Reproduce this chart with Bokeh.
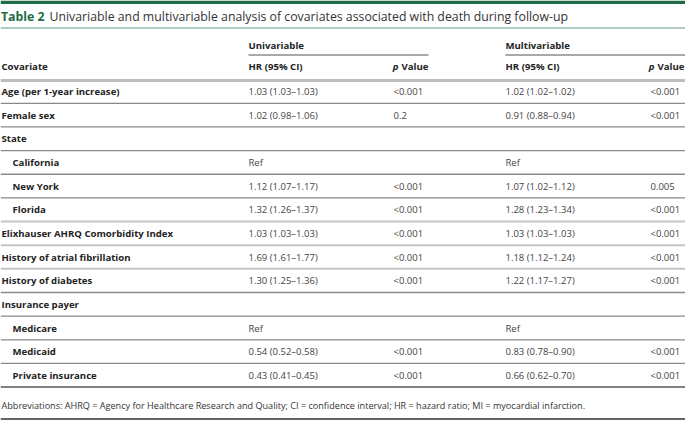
import numpy as np
from bokeh.plotting import figure
from bokeh.models import Range1d, ColumnDataSource
from bokeh.core.properties import value
from bokeh.embed import file_html
from bokeh.resources import INLINE

# ---- data ----
covariates = ["Age (per 1-year increase)", "Female sex", "State", "California", "New York",
              "Florida", "Elixhauser AHRQ Comorbidity Index", "History of atrial fibrillation",
              "History of diabetes", "Insurance payer", "Medicare", "Medicaid", "Private insurance"]
is_subgroup = [0, 0, 0, 1, 1, 1, 0, 0, 0, 0, 1, 1, 1]
uni_hr = ["1.03 (1.03–1.03)", "1.02 (0.98–1.06)", "", "Ref", "1.12 (1.07–1.17)", "1.32 (1.26–1.37)",
          "1.03 (1.03–1.03)", "1.69 (1.61–1.77)", "1.30 (1.25–1.36)", "", "Ref",
          "0.54 (0.52–0.58)", "0.43 (0.41–0.45)"]
uni_p = ["<0.001", "0.2", "", "", "<0.001", "<0.001", "<0.001", "<0.001", "<0.001", "", "",
         "<0.001", "<0.001"]
multi_hr = ["1.02 (1.02–1.02)", "0.91 (0.88–0.94)", "", "Ref", "1.07 (1.02–1.12)", "1.28 (1.23–1.34)",
            "1.03 (1.03–1.03)", "1.18 (1.12–1.24)", "1.22 (1.17–1.27)", "", "Ref",
            "0.83 (0.78–0.90)", "0.66 (0.62–0.70)"]
multi_p = ["<0.001", "<0.001", "", "", "0.005", "<0.001", "<0.001", "<0.001", "<0.001", "", "",
           "<0.001", "<0.001"]
title_bold = "Table 2"
title_rest = "Univariable and multivariable analysis of covariates associated with death during follow-up"
group_headers = ["Univariable", "Multivariable"]
col_headers = ["Covariate", "HR (95% CI)", "p", "Value"]
footnote = ("Abbreviations: AHRQ = Agency for Healthcare Research and Quality; CI = confidence interval; "
            "HR = hazard ratio; MI = myocardial infarction.")

# ---- layout ----
W, H = 685, 421
FONT = value("Open Sans")
GREEN = "#1d6b47"
BODY = "#444444"
BOLD = "#222222"
FS_B = "9.6px"
FS_R = "9.5px"

p = figure(width=W, height=H, output_backend="svg", toolbar_location=None,
           x_range=Range1d(0, W), y_range=Range1d(H, 0),
           x_axis_location=None, y_axis_location=None, min_border=0)
p.grid.visible = False
p.outline_line_color = None
p.background_fill_color = "white"

# top bar and title
p.quad(left=0, right=W, top=0, bottom=3.5, fill_color=GREEN, line_color=None)
p.text(x=[0.5], y=[16], text=[title_bold], text_font=FONT, text_font_size="12.3px",
       text_font_style="bold", text_color=GREEN, text_baseline="middle")
p.text(x=[49], y=[16], text=[title_rest], text_font=FONT, text_font_size="12.3px",
       text_color="#333333", text_baseline="middle")
p.segment(x0=[0], x1=[W], y0=[27.5], y1=[27.5], line_color="#5f9c7d", line_width=1.2)

# column positions
x_lab, x_sub = 1, 12
x_uhr, x_up, x_up_hdr = 248, 393, 428
x_mhr, x_mp, x_mp_hdr = 505, 650, 684

# group headers
p.text(x=[x_uhr, x_mhr], y=[45, 45], text=group_headers, text_font=FONT, text_font_size=FS_B,
       text_font_style="bold", text_color=BOLD, text_baseline="middle")
p.segment(x0=[x_uhr, x_mhr], x1=[x_up_hdr, W], y0=[54.5, 54.5], y1=[54.5, 54.5],
          line_color="#555555", line_width=1.2)

# column headers
hy = 66
p.text(x=[x_lab, x_uhr, x_mhr], y=[hy] * 3, text=[col_headers[0], col_headers[1], col_headers[1]],
       text_font=FONT, text_font_size=FS_B, text_font_style="bold", text_color=BOLD,
       text_baseline="middle")
p.text(x=[x_up_hdr, x_mp_hdr], y=[hy, hy], text=[col_headers[3]] * 2,
       text_font=FONT, text_font_size=FS_B, text_font_style="bold", text_color=BOLD,
       text_baseline="middle", text_align="right")
p.text(x=[x_up_hdr - 30, x_mp_hdr - 30], y=[hy, hy], text=[col_headers[2]] * 2,
       text_font=FONT, text_font_size=FS_B, text_font_style="bold italic", text_color=BOLD,
       text_baseline="middle", text_align="right")
p.segment(x0=[0], x1=[W], y0=[80], y1=[80], line_color="#bdbdbd", line_width=3)

# body rows
n = len(covariates)
ys = 91 + 23.65 * np.arange(n)
lab_x = [x_sub if s else x_lab for s in is_subgroup]
src = ColumnDataSource(dict(y=ys, lab_x=lab_x, lab=covariates, uhr=uni_hr, up=uni_p,
                            mhr=multi_hr, mp=multi_p))
p.text(x="lab_x", y="y", text="lab", source=src, text_font=FONT, text_font_size=FS_B,
       text_font_style="bold", text_color=BOLD, text_baseline="middle")
for col, xx in (("uhr", x_uhr), ("up", x_up), ("mhr", x_mhr), ("mp", x_mp)):
    p.text(x=xx, y="y", text=col, source=src, text_font=FONT, text_font_size=FS_R,
           text_color=BODY, text_baseline="middle")

# row separators
sep_y = ys + 11.8
light = [5, 6, 7]
dark_idx = [i for i in range(n - 1) if i not in light]
p.segment(x0=0, x1=W, y0=sep_y[dark_idx], y1=sep_y[dark_idx], line_color="#8a8a8a", line_width=1.3)
p.segment(x0=0, x1=W, y0=sep_y[light], y1=sep_y[light], line_color="#c4c4c4", line_width=2)
p.segment(x0=[0], x1=[W], y0=[sep_y[-1]], y1=[sep_y[-1]], line_color="#555555", line_width=1.5)

# footnote
p.text(x=[x_lab], y=[404.5], text=[footnote], text_font=FONT, text_font_size="9.1px",
       text_color="#333333", text_baseline="middle")
p.segment(x0=[0], x1=[W], y0=[418.5], y1=[418.5], line_color="#333333", line_width=1.5)

open("out.html", "w").write(file_html(p, INLINE))
